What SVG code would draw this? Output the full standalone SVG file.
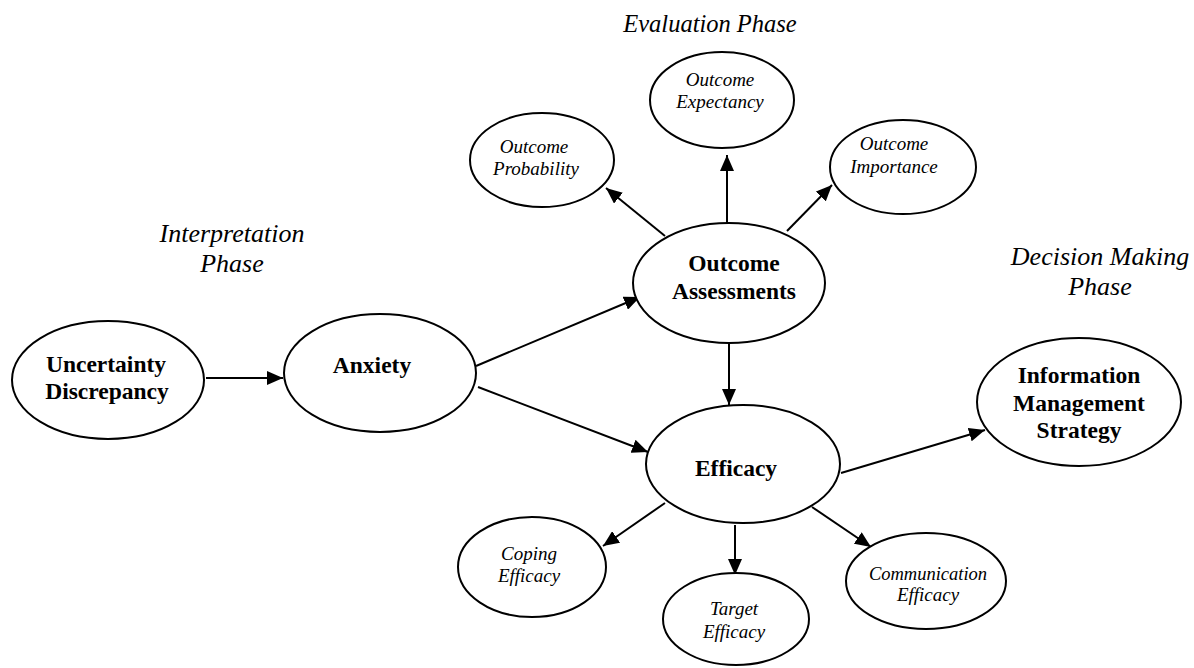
<svg xmlns="http://www.w3.org/2000/svg" width="1194" height="668" viewBox="0 0 1194 668">
<style>
.node ellipse{fill:#fff;stroke:#000;stroke-width:2}
.b{font-family:"Liberation Serif","Times New Roman",serif;font-weight:bold;font-size:23.5px;text-anchor:middle;fill:#000}
.i{font-family:"Liberation Serif","Times New Roman",serif;font-style:italic;font-size:19px;text-anchor:middle;fill:#000}
.ph{font-family:"Liberation Serif","Times New Roman",serif;font-style:italic;font-size:26px;text-anchor:middle;fill:#000}
#connectors line{stroke:#000;stroke-width:2;marker-end:url(#ah)}
</style>
<defs>
<marker id="ah" markerUnits="userSpaceOnUse" markerWidth="17" markerHeight="14" refX="16" refY="7" orient="auto">
<path d="M0,0 L16,7 L0,14 z" fill="#000"/>
</marker>
</defs>
<rect width="1194" height="668" fill="#fff"/>
<g id="phase-labels">
<text class="ph" x="232" y="242">Interpretation</text>
<text class="ph" x="232" y="272">Phase</text>
<text class="ph" x="710" y="32" style="font-size:24.5px">Evaluation Phase</text>
<text class="ph" x="1100" y="265">Decision Making</text>
<text class="ph" x="1100" y="295">Phase</text>
</g>
<g id="connectors">
<line x1="206" y1="378" x2="283" y2="378"/>
<line x1="476" y1="366" x2="640" y2="297"/>
<line x1="478" y1="387" x2="648" y2="452"/>
<line x1="729" y1="343" x2="729" y2="405"/>
<line x1="665" y1="236" x2="606" y2="188"/>
<line x1="727" y1="223" x2="727" y2="155"/>
<line x1="787" y1="231" x2="832" y2="185"/>
<line x1="841" y1="473" x2="985" y2="430"/>
<line x1="665" y1="503" x2="603" y2="546"/>
<line x1="735" y1="525" x2="735" y2="575"/>
<line x1="812" y1="507" x2="871" y2="547"/>
</g>
<g id="uncertainty-discrepancy" class="node">
<ellipse cx="108" cy="380" rx="96" ry="59"/>
<text class="b" x="106" y="372">Uncertainty</text>
<text class="b" x="107" y="399">Discrepancy</text>
</g>
<g id="anxiety" class="node">
<ellipse cx="380" cy="373" rx="96" ry="59"/>
<text class="b" x="372" y="373">Anxiety</text>
</g>
<g id="outcome-assessments" class="node">
<ellipse cx="729" cy="283" rx="96" ry="60"/>
<text class="b" x="734" y="271">Outcome</text>
<text class="b" x="734" y="299">Assessments</text>
</g>
<g id="efficacy" class="node">
<ellipse cx="743" cy="464" rx="97" ry="59"/>
<text class="b" x="736" y="476">Efficacy</text>
</g>
<g id="information-management-strategy" class="node">
<ellipse cx="1079" cy="402" rx="102" ry="64"/>
<text class="b" x="1079" y="383">Information</text>
<text class="b" x="1079" y="411">Management</text>
<text class="b" x="1079" y="438">Strategy</text>
</g>
<g id="outcome-probability" class="node">
<ellipse cx="542" cy="160" rx="72" ry="47"/>
<text class="i" x="534" y="153">Outcome</text>
<text class="i" x="536" y="175">Probability</text>
</g>
<g id="outcome-expectancy" class="node">
<ellipse cx="722" cy="100" rx="72" ry="48"/>
<text class="i" x="720" y="86">Outcome</text>
<text class="i" x="720" y="108">Expectancy</text>
</g>
<g id="outcome-importance" class="node">
<ellipse cx="903" cy="167" rx="73" ry="47"/>
<text class="i" x="894" y="150">Outcome</text>
<text class="i" x="894" y="173">Importance</text>
</g>
<g id="coping-efficacy" class="node">
<ellipse cx="532" cy="567" rx="74" ry="50"/>
<text class="i" x="529" y="560">Coping</text>
<text class="i" x="529" y="582">Efficacy</text>
</g>
<g id="target-efficacy" class="node">
<ellipse cx="736" cy="619" rx="73" ry="46"/>
<text class="i" x="734" y="615">Target</text>
<text class="i" x="734" y="638">Efficacy</text>
</g>
<g id="communication-efficacy" class="node">
<ellipse cx="926" cy="581" rx="80" ry="48"/>
<text class="i" x="928" y="580" style="font-size:18.5px">Communication</text>
<text class="i" x="928" y="601">Efficacy</text>
</g>
</svg>
